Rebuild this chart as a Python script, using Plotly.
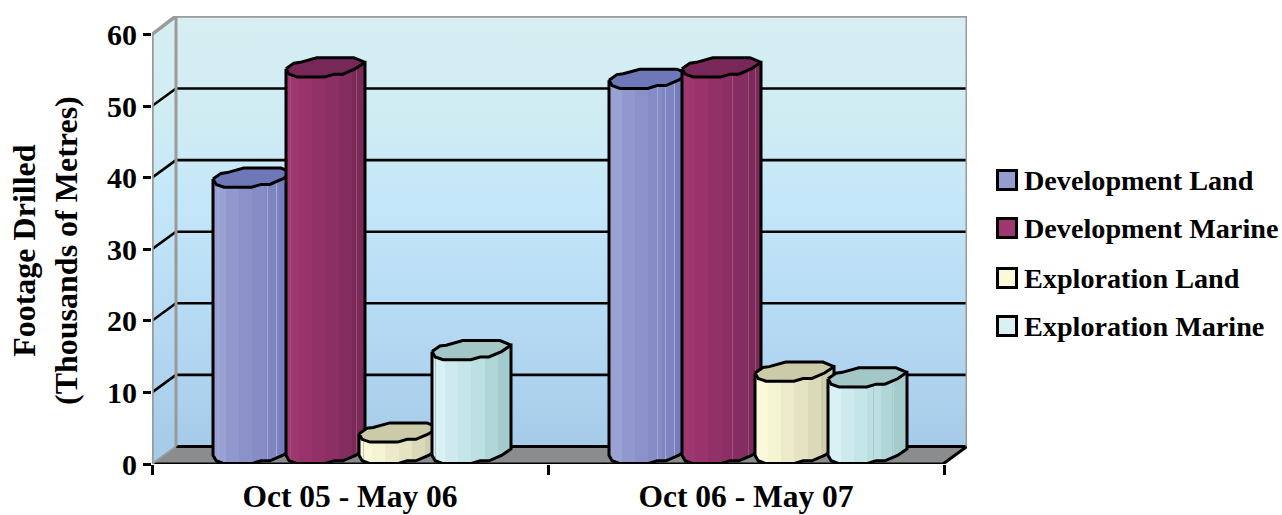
import plotly.graph_objects as go

# Drilling footage by campaign season
categories = ["Oct 05 - May 06", "Oct 06 - May 07"]
series_names = ["Development Land", "Development Marine", "Exploration Land", "Exploration Marine"]
development_land = [38.6, 52.4]
development_marine = [54.0, 54.0]
exploration_land = [3.0, 11.5]
exploration_marine = [14.5, 10.7]
series_values = [development_land, development_marine, exploration_land, exploration_marine]
y_ticks = [0, 10, 20, 30, 40, 50, 60]

# Faceted shading across each cylinder, and the colour of its top face
facet_colors = [
    ["#9aa1d3", "#9198cd", "#8b92c9", "#858cc6", "#7e85c0", "#757dbb"],
    ["#9e3670", "#98336c", "#923168", "#8c2f64", "#842d60", "#7a2a59"],
    ["#fbf9d9", "#f4f3d2", "#eceaca", "#e4e3c2", "#dad9b9", "#cfcfb0"],
    ["#d9f0f5", "#cfeaef", "#c5e6e9", "#bce0e2", "#b1d6d8", "#a5cccd"],
]
seam_colors = ["#a4a9d8", "#a84a78", "#c8c8aa", "#a8c8ca"]
seam_positions = [
    [[.07, .69, .80], [.61, .72, .83]],
    [[.06, .89], [.64, .76, .84, .93]],
    [[.06], [.62, .85, .93]],
    [[.04, .14, .90], [.58, .82, .90]],
]
top_colors = ["#6e78b8", "#772858", "#cbcbaa", "#a2c7c6"]
swatch_colors = ["#959cd0", "#9e3670", "#fbf9d9", "#d9f0f5"]

# Plot-area geometry in pixels
W, H = 1282, 515
LEFT, RIGHT, TOP, BOTTOM = 152, 967, 16, 464
X_SCALE = 396.0
Y_SCALE = 7.16
X_MAX = (RIGHT - LEFT) / X_SCALE
Y_MAX = (BOTTOM - TOP) / Y_SCALE
DX = 24 / X_SCALE      # depth of the box along x
DY = 17.5 / Y_SCALE    # depth of the box along y
BAR_W = 79 / X_SCALE
BAR_STEP = 73.0 / X_SCALE
CAP_H = 20 / Y_SCALE
BASE = 1.4

# Faceted outline of a bar cap: u runs across the bar, v runs from back to front
FRONT_U = [0, .04, .14, .49, .61, .72, .88, 1]
FRONT_V = [.57, .84, .98, .98, .84, .84, .57, .25]
BACK_U = [.86, .39, .18, .10]
BACK_V = [.02, .02, .25, .29]

WALL_SCALE = [
    [0, "#a6cbe9"], [0.25, "#b4d8f2"], [0.58, "#c4e7f9"],
    [0.75, "#cfecf3"], [1, "#d7eef2"],
]
GRID = "#000000"
FRAME = "#9a9a9a"
FLOOR = "#8a8c8e"
SERIF = "Liberation Serif"


def faceted_scale(colors, seams, seam_color):
    """Stepped colour scale with thin pale seams at the given positions."""
    n = len(colors)
    half = 0.005
    edges = sorted([i / n for i in range(n + 1)] + [p - half for p in seams] + [p + half for p in seams])
    stops = []
    for a, b in zip(edges, edges[1:]):
        mid = (a + b) / 2
        in_seam = any(abs(mid - p) < half for p in seams)
        c = seam_color if in_seam else colors[min(int(mid * n), n - 1)]
        stops += [[a, c], [b, c]]
    return stops


def add_line(fig, xs, ys, color, width):
    fig.add_trace(go.Scatter(x=xs, y=ys, mode="lines", cliponaxis=False,
                             line=dict(color=color, width=width),
                             hoverinfo="skip", showlegend=False))


fig = go.Figure()

# Back wall, left wall and floor of the box
wall_grad = dict(type="vertical", colorscale=WALL_SCALE, start=DY, stop=Y_MAX)
fig.add_trace(go.Scatter(x=[DX, X_MAX, X_MAX, DX, DX], y=[DY, DY, Y_MAX, Y_MAX, DY],
                         fill="toself", fillgradient=wall_grad, mode="none",
                         hoverinfo="skip", showlegend=False))
fig.add_trace(go.Scatter(x=[0, DX, DX, 0, 0], y=[0, DY, Y_MAX, 60, 0],
                         fill="toself", fillgradient=wall_grad, mode="none",
                         hoverinfo="skip", showlegend=False))
fig.add_trace(go.Scatter(x=[0, DX, X_MAX, X_MAX - DX, 0], y=[0, DY, DY, 0, 0],
                         fill="toself", fillcolor=FLOOR, mode="none",
                         hoverinfo="skip", showlegend=False))

# Gridlines wrap from the left wall onto the back wall
for t in y_ticks[1:-1]:
    add_line(fig, [0, DX, X_MAX], [t, t + DY, t + DY], GRID, 2.6)
add_line(fig, [DX, X_MAX], [DY, DY], GRID, 3)
add_line(fig, [0, X_MAX - DX, X_MAX], [0, 0, DY], GRID, 3)

# Box frame
add_line(fig, [X_MAX, X_MAX], [DY, Y_MAX], FRAME, 3)
add_line(fig, [0, DX], [0, DY], FRAME, 2)
add_line(fig, [DX, DX], [DY, Y_MAX], FRAME, 3)
add_line(fig, [0, 0], [0, 60], FRAME, 3.5)
add_line(fig, [0, DX, X_MAX], [60, Y_MAX, Y_MAX], FRAME, 3.5)

# Cylinders, drawn left to right so that later bars overlap earlier ones
for g in range(len(categories)):
    center = g + 0.5 + DX / 2
    for s, values in enumerate(series_values):
        x0 = center + (s - 1.5) * BAR_STEP - BAR_W / 2
        level = BASE + values[g]
        px = [x0 + u * BAR_W for u in FRONT_U]
        low = [BASE + (0.5 - v) * CAP_H for v in FRONT_V]
        top_y = level + (0.5 - FRONT_V[0]) * CAP_H
        top_y_r = level + (0.5 - FRONT_V[-1]) * CAP_H
        scale = faceted_scale(facet_colors[s], seam_positions[s][g], seam_colors[s])
        fig.add_trace(go.Scatter(
            x=[px[0], px[-1]] + px[::-1] + [px[0]],
            y=[top_y, top_y_r] + low[::-1] + [top_y],
            fill="toself", mode="lines", name=series_names[s],
            fillgradient=dict(type="horizontal", colorscale=scale),
            line=dict(color="#000000", width=3), cliponaxis=False,
            showlegend=False,
            hovertemplate=f"{series_names[s]}<br>{categories[g]}: {values[g]}<extra></extra>",
        ))
        cap_x = px + [x0 + u * BAR_W for u in BACK_U] + [px[0]]
        cap_y = [level + (0.5 - v) * CAP_H for v in FRONT_V + BACK_V + FRONT_V[:1]]
        fig.add_trace(go.Scatter(
            x=cap_x, y=cap_y, fill="toself", fillcolor=top_colors[s], mode="lines",
            line=dict(color="#000000", width=3), cliponaxis=False,
            hoverinfo="skip", showlegend=False,
        ))

fig.update_xaxes(
    range=[0, X_MAX], tickvals=[0.5, 1.5], ticktext=categories, ticks="", showgrid=False,
    zeroline=False, showline=False, ticklabelstandoff=10,
    tickfont=dict(family=SERIF, size=31.5, color="#000000", weight="bold"),
    minor=dict(tickvals=[0, 1, 2], ticks="outside", ticklen=10, tickwidth=3, tickcolor="#000000"),
)
fig.update_yaxes(
    range=[0, Y_MAX], tickvals=y_ticks, ticks="outside", ticklen=8, tickwidth=3,
    tickcolor="#000000", showgrid=False, zeroline=False, showline=False, ticklabelstandoff=0,
    tickfont=dict(family=SERIF, size=30, color="#000000", weight="bold"),
)

# Key to the right of the box
plot_w = RIGHT - LEFT
plot_h = BOTTOM - TOP
key_rows = [180, 228, 278, 326]
shapes, annotations = [], []
for name, color, row in zip(series_names, swatch_colors, key_rows):
    shapes.append(dict(type="rect", xref="paper", yref="paper", layer="above",
                       x0=(997.5 - LEFT) / plot_w, x1=(1016.5 - LEFT) / plot_w,
                       y0=(BOTTOM - row - 9.5) / plot_h, y1=(BOTTOM - row + 9.5) / plot_h,
                       fillcolor=color, line=dict(color="#000000", width=3)))
    annotations.append(dict(text=f"<b>{name}</b>", xref="paper", yref="paper",
                            x=(1021.5 - LEFT) / plot_w, y=(BOTTOM - row) / plot_h,
                            xanchor="left", yanchor="middle", showarrow=False,
                            font=dict(family=SERIF, size=28.2, color="#000000")))

# Two-line rotated axis title
annotations.append(dict(text="<b>Footage Drilled<br>(Thousands of Metres)</b>",
                        xref="paper", yref="paper", textangle=-90,
                        x=(45 - LEFT) / plot_w, y=(BOTTOM - 251) / plot_h,
                        xanchor="center", yanchor="middle", showarrow=False,
                        font=dict(family=SERIF, size=32, color="#000000")))

fig.update_layout(
    width=W, height=H, autosize=False, showlegend=False,
    margin=dict(l=LEFT, r=W - RIGHT, t=TOP, b=H - BOTTOM, pad=0, autoexpand=False),
    paper_bgcolor="#ffffff", plot_bgcolor="rgba(0,0,0,0)",
    shapes=shapes, annotations=annotations,
)

fig.write_html("out.html", config=dict(displayModeBar=False))
